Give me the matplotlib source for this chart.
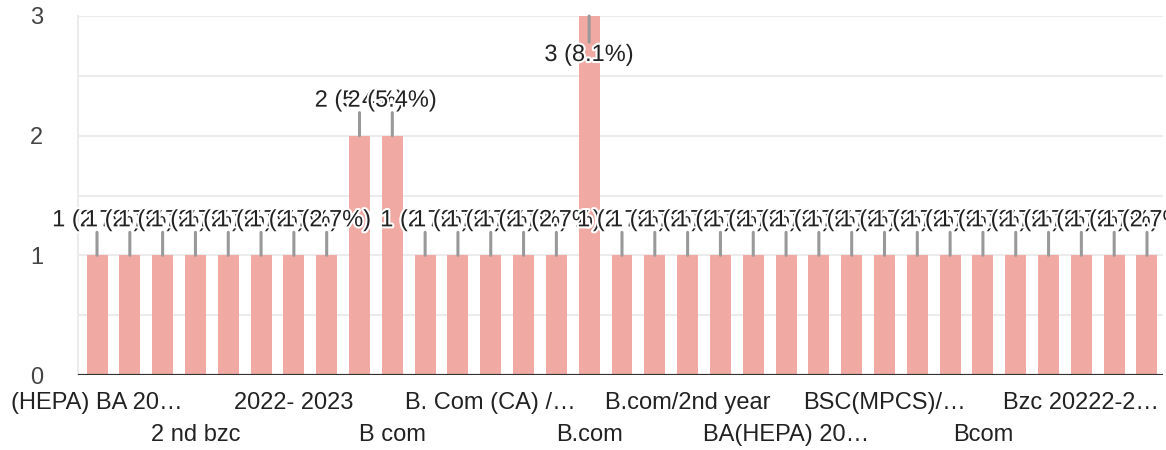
import matplotlib
matplotlib.use("Agg")
import matplotlib.pyplot as plt
import matplotlib.patheffects as pe

# ---- data ----
# Category labels; None = label not displayed / unreadable
categories = [
    "(HEPA) BA 20…", None, None, "2 nd bzc", None, None,
    "2022- 2023", None, None, "B com", None, None,
    "B. Com (CA) /…", None, None, "B.com", None, None,
    "B.com/2nd year", None, None, "BA(HEPA) 20…", None, None,
    "BSC(MPCS)/…", None, None, "Bcom", None, None,
    "Bzc 20222-2…", None, None,
]
counts = [1, 1, 1, 1, 1, 1, 1, 1, 2, 2, 1, 1, 1, 1, 1, 3,
          1, 1, 1, 1, 1, 1, 1, 1, 1, 1, 1, 1, 1, 1, 1, 1, 1]
y_ticks = [0, 1, 2, 3]

total = sum(counts)
ymax = 3

plt.rcParams['font.family'] = ['Liberation Sans', 'DejaVu Sans']
FS = 17

fig = plt.figure(figsize=(11.66, 4.5), dpi=100)
W, H = 1166, 450
left_px, right_px, top_px, bottom_px = 78, 1163.4, 16, 375
ax = fig.add_axes([left_px / W, 1 - bottom_px / H,
                   (right_px - left_px) / W, (bottom_px - top_px) / H])

n = len(counts)
xs = list(range(n))
slot = (right_px - 80.6) / n
ax.set_xlim(-0.5 - (80.6 - left_px) / slot, n - 0.5)
ax.set_ylim(0, ymax)

bar_color = "#f1a9a3"
ax.bar(xs, counts, width=0.64, color=bar_color, zorder=2)

# gridlines
for g in [0.5 * k for k in range(1, 2 * ymax + 1)]:
    ax.axhline(g, color="#ebebeb", lw=1.5, zorder=1)
ax.axhline(0, color="#333333", lw=2.3, zorder=6)

for s in ["top", "right", "bottom"]:
    ax.spines[s].set_visible(False)
ax.spines["left"].set_color("#ebebeb")
ax.spines["left"].set_linewidth(1.5)

ax.set_yticks(y_ticks)
ax.set_yticklabels([str(t) for t in y_ticks], fontsize=FS, color="#444444")
ax.tick_params(axis="y", length=0, pad=25)
ax.set_xticks([])

# data labels with leader lines
for i, (x, v) in enumerate(zip(xs, counts)):
    pct = v / total * 100
    label = f"{v} ({pct:.1f}%)"
    if v >= ymax:
        line_off, text_off = -26, -39
    else:
        line_off, text_off = 23, 35
    ax.annotate("", xy=(x, v), xytext=(0, line_off), textcoords="offset pixels",
                arrowprops=dict(arrowstyle="-", color="#999999", lw=2.2,
                                shrinkA=0, shrinkB=0),
                zorder=4, annotation_clip=False)
    ax.annotate(label, xy=(x, v), xytext=(0, text_off), textcoords="offset pixels",
                ha="center", va="center", fontsize=FS, color="#222222",
                zorder=10 + i * 0.01, annotation_clip=False,
                path_effects=[pe.withStroke(linewidth=3, foreground="white")])

# x-axis category labels (alternating rows)
shown = [(x, c) for x, c in zip(xs, categories) if c is not None]
for k, (x, c) in enumerate(shown):
    off = -28 if k % 2 == 0 else -60
    ax.annotate(c, xy=(x, 0), xycoords=("data", "axes fraction"),
                xytext=(0, off), textcoords="offset pixels",
                ha="center", va="center", fontsize=FS, color="#222222",
                annotation_clip=False)

fig.savefig("out.png", dpi=100)
